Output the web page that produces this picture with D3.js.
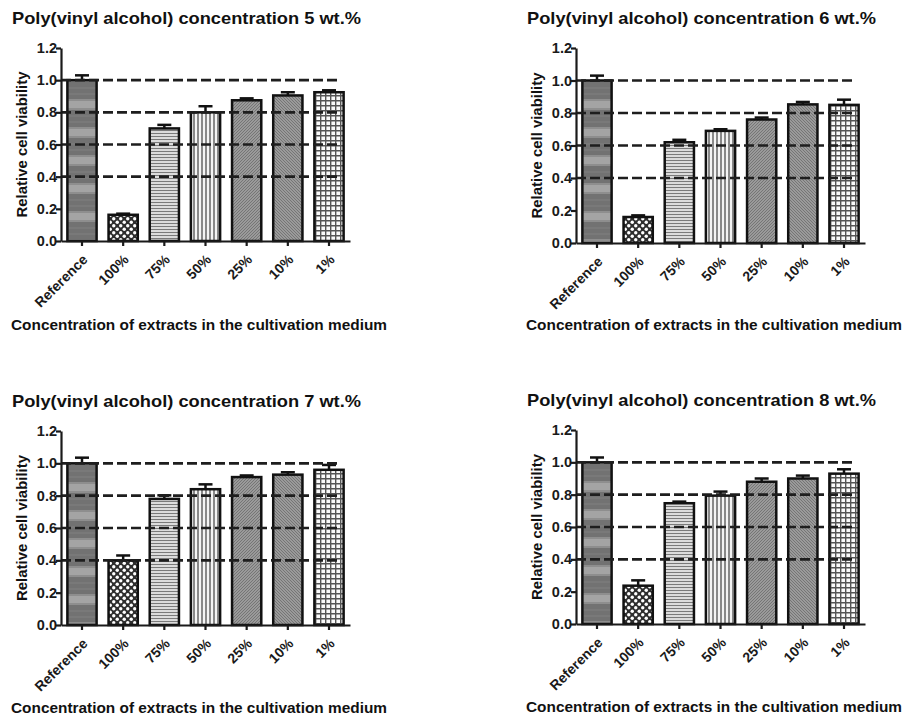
<!DOCTYPE html>
<html>
<head>
<meta charset="utf-8">
<script src="https://cdn.jsdelivr.net/npm/d3@7"></script>
<style>
  body { margin: 0; background: #fff; }
  svg { display: block; font-family: Arial, "Liberation Sans", sans-serif; font-weight: bold; }
  .axis path, .axis line { stroke: #1a1a1a; stroke-width: 2.2; }
  .axis text { fill: #1a1a1a; font-weight: bold; font-family: Arial, "Liberation Sans", sans-serif; }
</style>
</head>
<body>
<div id="chart"></div>
<script>
// Data
const categories = ['Reference', '100%', '75%', '50%', '25%', '10%', '1%'];
const yTicks = [0, 0.2, 0.4, 0.6, 0.8, 1.0, 1.2];
const guideLevels = [0.4, 0.6, 0.8, 1.0];
const titles = [
    'Poly(vinyl alcohol) concentration 5 wt.%',
    'Poly(vinyl alcohol) concentration 6 wt.%',
    'Poly(vinyl alcohol) concentration 7 wt.%',
    'Poly(vinyl alcohol) concentration 8 wt.%'
];
const viability5 = [1.00, 0.163, 0.70, 0.80, 0.875, 0.905, 0.925];
const error5     = [0.03, 0.007, 0.022, 0.038, 0.012, 0.02, 0.012];
const viability6 = [1.00, 0.16, 0.62, 0.69, 0.76, 0.853, 0.85];
const error6     = [0.03, 0.01, 0.015, 0.01, 0.012, 0.015, 0.032];
const viability7 = [1.00, 0.40, 0.78, 0.84, 0.915, 0.93, 0.96];
const error7     = [0.035, 0.03, 0.022, 0.03, 0.01, 0.015, 0.03];
const viability8 = [1.00, 0.237, 0.747, 0.794, 0.88, 0.90, 0.93];
const error8     = [0.03, 0.033, 0.01, 0.025, 0.02, 0.018, 0.027];
const xTitle = 'Concentration of extracts in the cultivation medium';
const yTitle = 'Relative cell viability';

const svg = d3.select('#chart')
    .append('svg')
    .attr('width', 911)
    .attr('height', 720);

// Fill patterns for the bars
const defs = svg.append('defs');

function makePattern(id, w, h) {
    return defs.append('pattern')
        .attr('id', id)
        .attr('patternUnits', 'userSpaceOnUse')
        .attr('width', w)
        .attr('height', h);
}

// reference: dark grey with lighter horizontal bands
let p = makePattern('pRef', 6, 28);
p.append('rect').attr('width', 6).attr('height', 28).attr('fill', '#727272');
p.append('rect').attr('y', 17).attr('width', 6).attr('height', 7).attr('fill', '#a4a4a4');
p.append('rect').attr('y', 15).attr('width', 6).attr('height', 2).attr('fill', '#8e8e8e');
p.append('rect').attr('y', 24).attr('width', 6).attr('height', 2).attr('fill', '#8e8e8e');
p.append('path').attr('d', 'M0,4H6M0,10H6').attr('stroke', '#808080').attr('stroke-width', 1);

// 100%: white dots on dark
p = makePattern('pDots', 7, 7);
p.append('rect').attr('width', 7).attr('height', 7).attr('fill', '#2e2e2e');
p.append('circle').attr('cx', 1.75).attr('cy', 1.75).attr('r', 1.7).attr('fill', '#fff');
p.append('circle').attr('cx', 5.25).attr('cy', 5.25).attr('r', 1.7).attr('fill', '#fff');

// 75%: horizontal lines
p = makePattern('pHoriz', 4, 3);
p.append('rect').attr('width', 4).attr('height', 3).attr('fill', '#f4f4f4');
p.append('path').attr('d', 'M0,1.5H4').attr('stroke', '#7a7a7a').attr('stroke-width', 1.4);

// 50%: vertical lines
p = makePattern('pVert', 4, 4);
p.append('rect').attr('width', 4).attr('height', 4).attr('fill', '#f4f4f4');
p.append('path').attr('d', 'M2,0V4').attr('stroke', '#6e6e6e').attr('stroke-width', 1.6);

// 25%: dense "/" hatch
p = makePattern('pDiagR', 3, 3);
p.append('rect').attr('width', 3).attr('height', 3).attr('fill', '#9a9a9a');
p.append('path').attr('d', 'M0,3L3,0M-1,1L1,-1M2,4L4,2').attr('stroke', '#6c6c6c').attr('stroke-width', 0.8);

// 10%: dense "\" hatch
p = makePattern('pDiagL', 3, 3);
p.append('rect').attr('width', 3).attr('height', 3).attr('fill', '#9a9a9a');
p.append('path').attr('d', 'M0,0L3,3M-1,2L1,4M2,-1L4,1').attr('stroke', '#6c6c6c').attr('stroke-width', 0.8);

// 1%: grid
p = makePattern('pGrid', 5, 5);
p.append('rect').attr('width', 5).attr('height', 5).attr('fill', '#fafafa');
p.append('path').attr('d', 'M0,0.7H5M0.7,0V5').attr('stroke', '#555').attr('stroke-width', 1.4);

const fills = ['pRef', 'pDots', 'pHoriz', 'pVert', 'pDiagR', 'pDiagL', 'pGrid'];

const panels = [
    {dx: 0,   dy: 0,   top: 48, bottom: 241, values: viability5, errors: error5, title: titles[0]},
    {dx: 515, dy: 0,   top: 48, bottom: 243, values: viability6, errors: error6, title: titles[1]},
    {dx: 0,   dy: 383, top: 48, bottom: 242, values: viability7, errors: error7, title: titles[2]},
    {dx: 515, dy: 382, top: 48, bottom: 242, values: viability8, errors: error8, title: titles[3]}
];

panels.forEach(drawPanel);

function drawPanel(cfg) {
    const g = svg.append('g')
        .attr('transform', `translate(${cfg.dx},${cfg.dy})`);

    const x = d3.scaleBand()
        .domain(categories)
        .range([61, 350])
        .paddingInner(0.29)
        .paddingOuter(0.155);

    const y = d3.scaleLinear()
        .domain([0, 1.2])
        .range([cfg.bottom, cfg.top]);

    const rows = categories.map((c, i) => ({cat: c, v: cfg.values[i], e: cfg.errors[i], fill: fills[i]}));

    // title
    g.append('text')
        .attr('x', 12)
        .attr('y', 24)
        .attr('textLength', 349)
        .attr('lengthAdjust', 'spacingAndGlyphs')
        .style('font-size', '16.5px')
        .attr('fill', '#111')
        .text(cfg.title);

    // bars
    g.selectAll('.bar')
        .data(rows)
        .enter()
        .append('rect')
        .attr('class', 'bar')
        .attr('x', d => x(d.cat))
        .attr('y', d => y(d.v))
        .attr('width', x.bandwidth())
        .attr('height', d => y(0) - y(d.v))
        .attr('fill', d => `url(#${d.fill})`)
        .attr('stroke', '#111')
        .attr('stroke-width', 2.5);

    // error bars (upper only)
    const err = g.selectAll('.err')
        .data(rows)
        .enter()
        .append('g')
        .attr('class', 'err')
        .attr('stroke', '#111')
        .attr('stroke-width', 2.5);

    err.append('line')
        .attr('x1', d => x(d.cat) + x.bandwidth() / 2)
        .attr('x2', d => x(d.cat) + x.bandwidth() / 2)
        .attr('y1', d => y(d.v))
        .attr('y2', d => y(d.v + d.e));

    err.append('line')
        .attr('x1', d => x(d.cat) + x.bandwidth() / 2 - 7)
        .attr('x2', d => x(d.cat) + x.bandwidth() / 2 + 7)
        .attr('y1', d => y(d.v + d.e))
        .attr('y2', d => y(d.v + d.e));

    // dashed guide lines drawn over the bars
    const lastCat = categories[categories.length - 1];
    g.selectAll('.guide')
        .data(guideLevels)
        .enter()
        .append('line')
        .attr('class', 'guide')
        .attr('x1', 61)
        .attr('x2', x(lastCat) + x.bandwidth() - 3)
        .attr('y1', d => y(d))
        .attr('y2', d => y(d))
        .attr('stroke', '#1e1e1e')
        .attr('stroke-width', 2.6)
        .attr('stroke-dasharray', '10,4');

    // y axis
    const yAxis = d3.axisLeft(y)
        .tickValues(yTicks)
        .tickFormat(d3.format('.1f'))
        .tickSize(5)
        .tickSizeOuter(0);

    g.append('g')
        .attr('class', 'axis')
        .attr('transform', 'translate(61,0)')
        .call(yAxis)
        .selectAll('text')
        .attr('x', -4)
        .style('font-size', '14.5px');

    // x axis
    const xAxis = d3.axisBottom(x)
        .tickSize(5)
        .tickSizeOuter(0);

    const xg = g.append('g')
        .attr('class', 'axis')
        .attr('transform', `translate(0,${y(0)})`)
        .call(xAxis);

    xg.selectAll('text')
        .attr('x', 0)
        .attr('y', 0)
        .attr('dy', '0.35em')
        .attr('text-anchor', 'end')
        .attr('transform', 'translate(3,16) rotate(-45)')
        .style('font-size', '14px');

    // axis titles
    g.append('text')
        .attr('x', 11)
        .attr('y', 330)
        .attr('textLength', 376)
        .attr('lengthAdjust', 'spacingAndGlyphs')
        .style('font-size', '15.5px')
        .attr('fill', '#111')
        .text(xTitle);

    g.append('text')
        .attr('transform', `translate(27,${(cfg.top + cfg.bottom) / 2}) rotate(-90)`)
        .attr('text-anchor', 'middle')
        .attr('textLength', 146)
        .attr('lengthAdjust', 'spacingAndGlyphs')
        .style('font-size', '15px')
        .attr('fill', '#111')
        .text(yTitle);
}
</script>
</body>
</html>
